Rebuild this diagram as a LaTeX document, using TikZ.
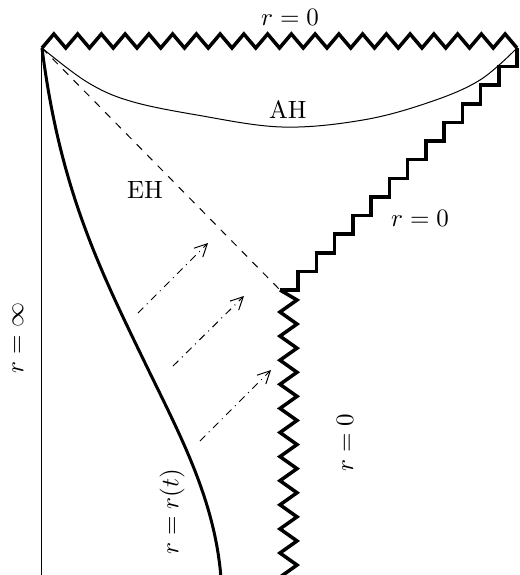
\documentclass[tikz,border=0pt]{standalone}
\usetikzlibrary{arrows.meta}
\begin{document}
\begin{tikzpicture}[x=0.4pt,y=-0.4pt,
  thickline/.style={line width=1.2pt, line join=miter},
  singline/.style={line width=1.4pt, line join=miter},
  thinline/.style={line width=0.4pt},
  flux/.style={line width=0.4pt, dash dot, -{Straight Barb[length=5pt,width=5pt]}},
  lab/.style={inner sep=1pt}]
\useasboundingbox (0,0) rectangle (520,575);
\coordinate (TL) at (42,48);
\coordinate (TR) at (517,48);
\coordinate (B) at (280,290);
\coordinate (BL) at (42,575);
% left boundary r = infinity
\draw[thinline] (TL) -- (BL);
% top singularity
\draw[singline] (TL) \foreach \k in {0,...,19} { -- ({42+23.75*(\k+0.5)},34) -- ({42+23.75*(\k+1)},48) };
% staircase singularity
\draw[singline] (B) \foreach \k in {1,...,13} { -- ++(18.23,0) -- ++(0,-18.615) };
% vertical singularity
\begin{scope}
\clip (0,0) rectangle (520,575);
\draw[singline] (B) -- (297,300) \foreach \k in {0,...,11} { -- (280,{312+24.1*\k}) -- (297,{324.05+24.1*\k}) };
\end{scope}
% event horizon
\draw[thinline, dashed] (TL) -- (B);
% apparent horizon
\draw[thinline] plot[smooth, tension=0.6] coordinates {(42,48) (87,82) (130,101) (197,115) (282,127) (363,120) (430,102) (480,80) (517,48)};
% shell r = r(t)
\draw[thickline] (TL) .. controls (60,190) and (100,270) .. (147,367) .. controls (180,435) and (215,500) .. (221,578);
% flux arrows
\coordinate (a1s) at (138,313); \coordinate (a1e) at (208,243);
\coordinate (a2s) at (173,366); \coordinate (a2e) at (244,296);
\coordinate (a3s) at (200,441); \coordinate (a3e) at (271,370);
\draw[flux] (a1s) -- (a1e);
\draw[flux] (a2s) -- (a2e);
\draw[flux] (a3s) -- (a3e);
% labels
\node[lab] (ltop) at (290,17) {$r=0$};
\node[lab] (lAH) at (288,110) {AH};
\node[lab] (lEH) at (145,190) {EH};
\node[lab] (lright) at (420,218) {$r=0$};
\node[lab, rotate=90] (linf) at (18,338) {$r=\infty$};
\node[lab, rotate=90] (lsing) at (345,443) {$r=0$};
\node[lab, rotate=90] (lrt) at (172,512) {$r=r(t)$};
\end{tikzpicture}
\end{document}
